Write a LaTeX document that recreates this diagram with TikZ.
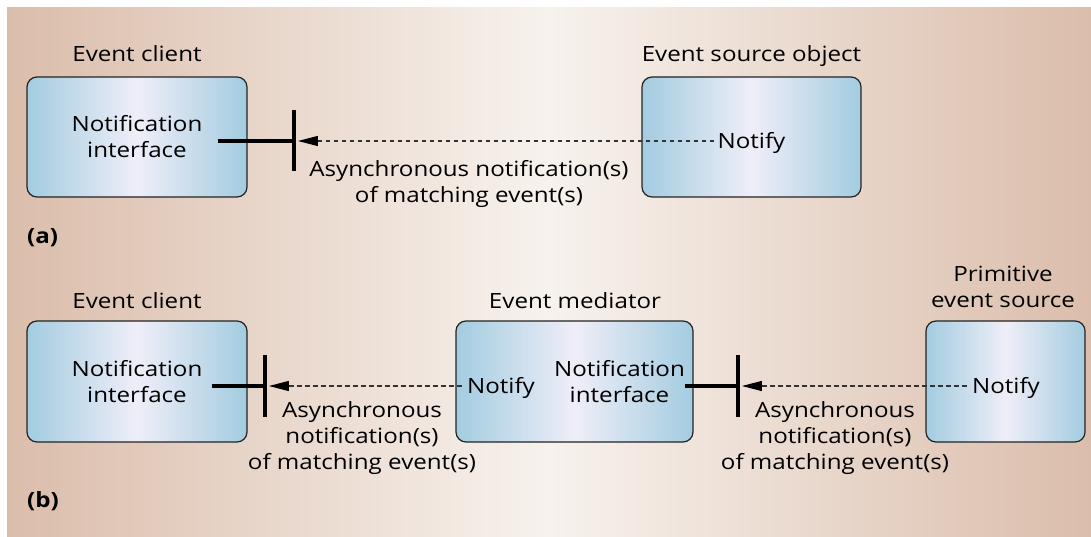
\documentclass[tikz,border=0pt]{standalone}
\usepackage{fontspec}
\setmainfont{Open Sans}[FakeStretch=1.15]
\usetikzlibrary{arrows.meta}
\definecolor{bgtan}{RGB}{219,189,171}
\definecolor{bglight}{RGB}{247,242,237}
\definecolor{boxblue}{RGB}{163,204,224}
\definecolor{boxlight}{RGB}{239,238,248}
\definecolor{edgec}{RGB}{35,35,35}
\begin{document}
\begin{tikzpicture}[x=1pt,y=-1pt,
  txt/.style={font=\fontsize{21}{26}\selectfont, inner sep=0pt, align=center, text=black},
  obj/.style={draw=edgec, line width=1.2pt, rounded corners=10pt, left color=boxblue, right color=boxblue, middle color=boxlight, minimum height=120pt, inner sep=0pt},
  bar/.style={fill=black, inner sep=0pt, minimum width=4.5pt, minimum height=61pt},
  stub/.style={line width=4pt},
  async/.style={dash pattern=on 4.5pt off 3.5pt, line width=1.2pt, draw=black!80, -{Triangle[length=20pt,width=10pt,color=black]}, shorten >=1.5pt},
  notify/.style={txt, text height=15pt, text depth=0pt, inner xsep=4pt},
  tag/.style={font=\bfseries\fontsize{21}{26}\selectfont, inner sep=0pt, anchor=west}]
\useasboundingbox (0,0) rectangle (1091,537);
\shade[left color=bgtan,right color=bgtan,middle color=bglight] (7,8) rectangle (1091,537);

% ---------- (a) ----------
\node[txt, anchor=base] (tClientA) at (137,62) {Event client};
\node[txt, anchor=base] (tSrcA) at (751.5,62) {Event source object};
\node[obj, minimum width=220pt] (clientA) at (137,137) {};
\node[obj, minimum width=219pt] (srcA) at (751.5,137) {};
\node[txt, inner xsep=15pt] (niA) at (137,136.7) {Notification\\interface};
\node[bar] (barA) at (294,141) {};
\draw[stub] (niA.east |- barA) -- (barA.west);
\node[notify, inner xsep=3pt] (nfA) at (751.5,141) {Notify};
\draw[async] (nfA.west) -- (barA.east);
\node[txt, anchor=north] (lblA) at (469,160.6) {Asynchronous notification(s)\\of matching event(s)};
\node[tag] (tagA) at (27,238) {(a)};

% ---------- (b) ----------
\node[txt, anchor=base] (tClientB) at (137,308) {Event client};
\node[txt, anchor=base] (tMed) at (575,308) {Event mediator};
\node[txt, anchor=south] (tPrim) at (1003,308) {Primitive\\event source};
\node[obj, minimum width=220pt, minimum height=121pt] (clientB) at (137,381.5) {};
\node[obj, minimum width=237pt, minimum height=121pt] (med) at (574.5,381.5) {};
\node[obj, minimum width=159pt, minimum height=121pt] (prim) at (1005.5,381.5) {};
\node[txt, inner xsep=9pt] (niB) at (137,382) {Notification\\interface};
\node[bar, minimum height=62pt] (barB1) at (265,386) {};
\draw[stub] (niB.east |- barB1) -- (barB1.west);
\node[notify, inner xsep=5pt] (nfMed) at (501,386) {Notify};
\draw[async] (nfMed.west) -- (barB1.east);
\node[txt, inner xsep=0pt] (niMed) at (619.5,382) {Notification\\interface};
\node[bar, minimum height=62pt] (barB2) at (738,386) {};
\draw[stub] (niMed.east |- barB2) -- (barB2.west);
\node[notify, inner xsep=5pt] (nfPrim) at (1006,386) {Notify};
\draw[async] (nfPrim.west) -- (barB2.east);
\node[txt, anchor=north] (lblB1) at (362,401) {Asynchronous\\notification(s)\\of matching event(s)};
\node[txt, anchor=north] (lblB2) at (835,401) {Asynchronous\\notification(s)\\of matching event(s)};
\node[tag] (tagB) at (27,501) {(b)};
\end{tikzpicture}
\end{document}
